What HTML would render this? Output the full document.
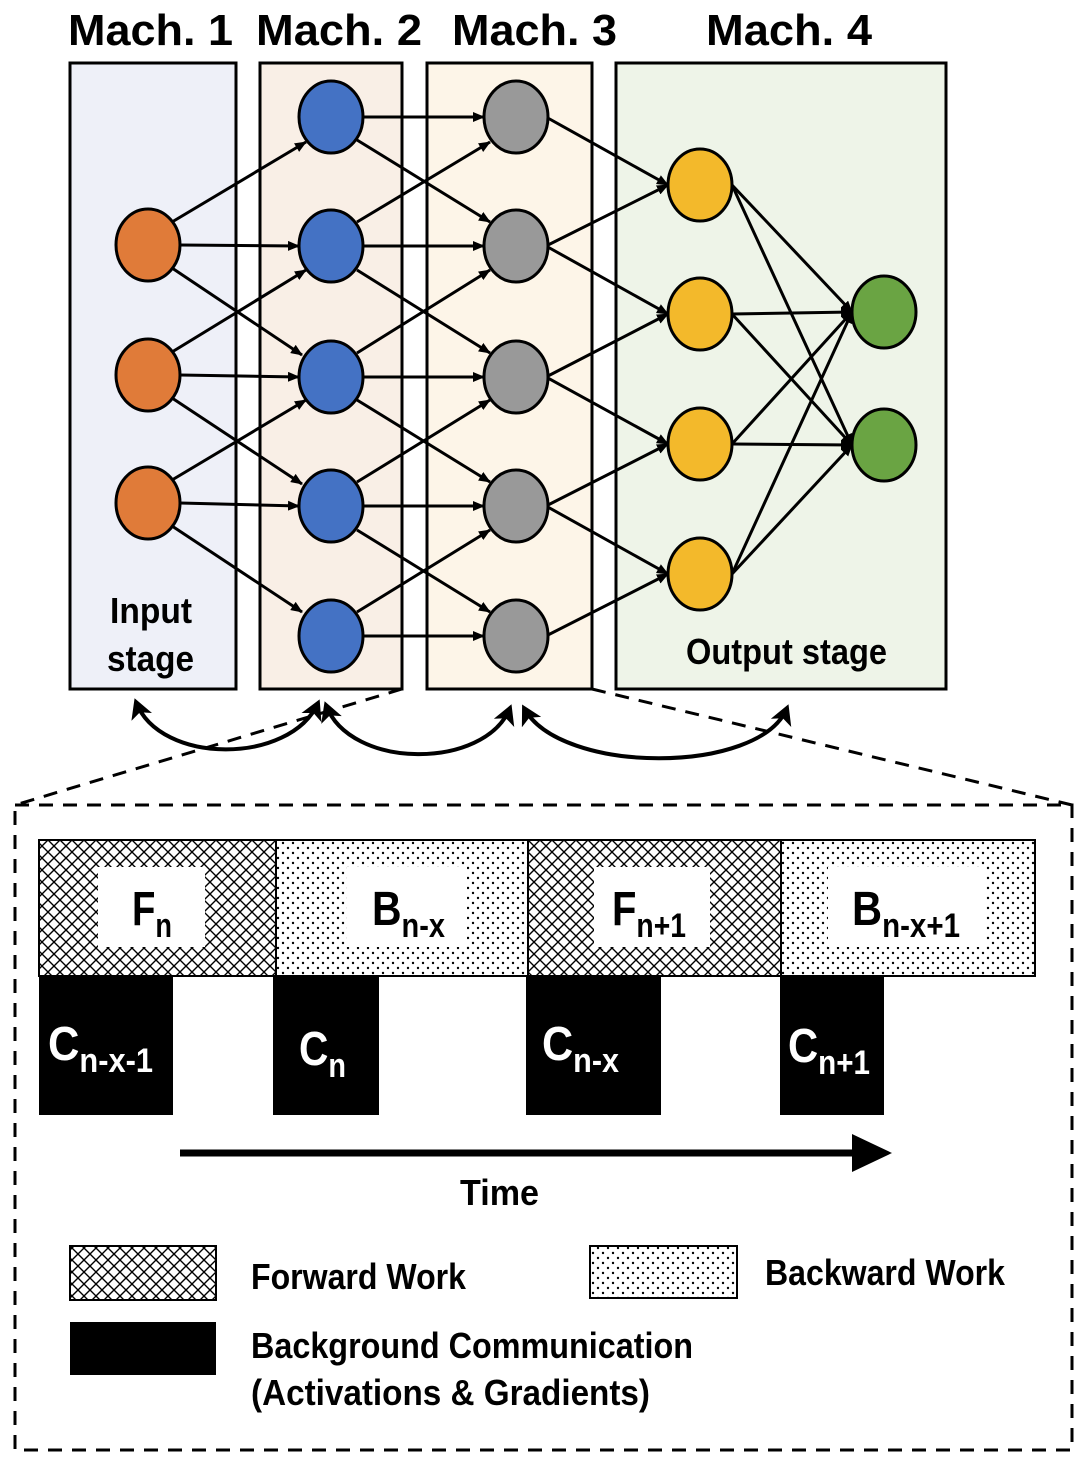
<!DOCTYPE html>
<html><head><meta charset="utf-8"><style>
html,body{margin:0;padding:0;background:#fff}
svg{display:block}
text{font-family:"Liberation Sans",sans-serif;font-weight:bold}
</style></head><body>
<svg width="1080" height="1462" viewBox="0 0 1080 1462" xmlns="http://www.w3.org/2000/svg">
<defs>
<pattern id="hx" width="12" height="12" patternUnits="userSpaceOnUse">
<rect width="12" height="12" fill="#fff"/>
<path d="M0,0L12,12M12,0L0,12" stroke="#000" stroke-width="1.4"/>
</pattern>
<pattern id="dt" width="10" height="10" patternUnits="userSpaceOnUse">
<rect width="10" height="10" fill="#fff"/>
<circle cx="3" cy="3" r="1.2" fill="#000"/>
<circle cx="8" cy="8" r="1.2" fill="#000"/>
</pattern>
<marker id="ah" markerWidth="12" markerHeight="10" refX="11" refY="5" orient="auto" markerUnits="userSpaceOnUse">
<path d="M0,0L12,5L0,10z" fill="#000"/>
</marker>
<marker id="ab" markerWidth="22" markerHeight="22" refX="16" refY="11" orient="auto-start-reverse" markerUnits="userSpaceOnUse">
<path d="M0,0L20,11L0,22L5,11z" fill="#000"/>
</marker>
</defs>

<g font-size="44" lengthAdjust="spacingAndGlyphs">
<text x="68" y="45" textLength="165" lengthAdjust="spacingAndGlyphs">Mach. 1</text>
<text x="256" y="45" textLength="166" lengthAdjust="spacingAndGlyphs">Mach. 2</text>
<text x="452" y="45" textLength="165" lengthAdjust="spacingAndGlyphs">Mach. 3</text>
<text x="706" y="45" textLength="166" lengthAdjust="spacingAndGlyphs">Mach. 4</text>
</g>

<rect x="70" y="63" width="166" height="626" fill="#eef0f8" stroke="#000" stroke-width="3"/>
<rect x="260" y="63" width="142" height="626" fill="#f9efe6" stroke="#000" stroke-width="3"/>
<rect x="427" y="63" width="165" height="626" fill="#fdf5e8" stroke="#000" stroke-width="3"/>
<rect x="616" y="63" width="330" height="626" fill="#eef4e8" stroke="#000" stroke-width="3"/>

<g stroke="#000" stroke-width="3" fill="none" marker-end="url(#ah)">
<line x1="172" y1="222" x2="306" y2="142"/><line x1="180" y1="245" x2="299" y2="246"/><line x1="172" y1="268" x2="302" y2="355"/>
<line x1="172" y1="352" x2="306" y2="270"/><line x1="180" y1="375" x2="299" y2="377"/><line x1="172" y1="398" x2="302" y2="484"/>
<line x1="172" y1="480" x2="306" y2="400"/><line x1="180" y1="503" x2="299" y2="506"/><line x1="172" y1="526" x2="302" y2="612"/>

<line x1="363" y1="117" x2="484" y2="117"/><line x1="357" y1="140" x2="490" y2="222"/>
<line x1="357" y1="222" x2="490" y2="142"/><line x1="363" y1="246" x2="484" y2="246"/><line x1="357" y1="270" x2="490" y2="353"/>
<line x1="357" y1="353" x2="490" y2="270"/><line x1="363" y1="377" x2="484" y2="377"/><line x1="357" y1="400" x2="490" y2="482"/>
<line x1="357" y1="482" x2="490" y2="400"/><line x1="363" y1="506" x2="484" y2="506"/><line x1="357" y1="530" x2="490" y2="612"/>
<line x1="357" y1="612" x2="490" y2="530"/><line x1="363" y1="636" x2="484" y2="636"/>

<line x1="546" y1="117" x2="668" y2="185"/>
<line x1="546" y1="246" x2="668" y2="185"/><line x1="546" y1="246" x2="668" y2="314"/>
<line x1="546" y1="377" x2="668" y2="314"/><line x1="546" y1="377" x2="668" y2="444"/>
<line x1="546" y1="506" x2="668" y2="444"/><line x1="546" y1="506" x2="668" y2="574"/>
<line x1="546" y1="636" x2="668" y2="574"/>

<line x1="732" y1="185" x2="852" y2="312"/><line x1="732" y1="185" x2="852" y2="445"/>
<line x1="732" y1="314" x2="852" y2="312"/><line x1="732" y1="314" x2="852" y2="445"/>
<line x1="732" y1="444" x2="852" y2="312"/><line x1="732" y1="444" x2="852" y2="445"/>
<line x1="732" y1="574" x2="852" y2="312"/><line x1="732" y1="574" x2="852" y2="445"/>
</g>

<g stroke="#000" stroke-width="3">
<g fill="#e07b39"><ellipse cx="148" cy="245" rx="32" ry="36"/><ellipse cx="148" cy="375" rx="32" ry="36"/><ellipse cx="148" cy="503" rx="32" ry="36"/></g>
<g fill="#4472c4"><ellipse cx="331" cy="117" rx="32" ry="36"/><ellipse cx="331" cy="246" rx="32" ry="36"/><ellipse cx="331" cy="377" rx="32" ry="36"/><ellipse cx="331" cy="506" rx="32" ry="36"/><ellipse cx="331" cy="636" rx="32" ry="36"/></g>
<g fill="#999999"><ellipse cx="516" cy="117" rx="32" ry="36"/><ellipse cx="516" cy="246" rx="32" ry="36"/><ellipse cx="516" cy="377" rx="32" ry="36"/><ellipse cx="516" cy="506" rx="32" ry="36"/><ellipse cx="516" cy="636" rx="32" ry="36"/></g>
<g fill="#f3b92b"><ellipse cx="700" cy="185" rx="32" ry="36"/><ellipse cx="700" cy="314" rx="32" ry="36"/><ellipse cx="700" cy="444" rx="32" ry="36"/><ellipse cx="700" cy="574" rx="32" ry="36"/></g>
<g fill="#6aa443"><ellipse cx="884" cy="312" rx="32" ry="36"/><ellipse cx="884" cy="445" rx="32" ry="36"/></g>
</g>

<g font-size="36">
<text x="110" y="623" textLength="82" lengthAdjust="spacingAndGlyphs">Input</text>
<text x="107" y="671" textLength="87" lengthAdjust="spacingAndGlyphs">stage</text>
<text x="686" y="664" textLength="201" lengthAdjust="spacingAndGlyphs">Output stage</text>
</g>

<g stroke="#000" stroke-width="3" stroke-dasharray="14,10" fill="none">
<line x1="402" y1="689" x2="15" y2="805"/>
<line x1="592" y1="689" x2="1072" y2="805"/>
<rect x="15" y="805" width="1057" height="645"/>
</g>

<g stroke="#000" stroke-width="4" fill="none" marker-start="url(#ab)" marker-end="url(#ab)">
<path d="M136,702 C160,765 290,765 318,703"/>
<path d="M326,705 C350,770 485,770 510,708"/>
<path d="M524,708 C560,775 760,775 787,708"/>
</g>

<rect x="39" y="840" width="237" height="136" fill="url(#hx)" stroke="#000" stroke-width="2"/>
<rect x="276" y="840" width="252" height="136" fill="url(#dt)" stroke="#000" stroke-width="2"/>
<rect x="528" y="840" width="253" height="136" fill="url(#hx)" stroke="#000" stroke-width="2"/>
<rect x="781" y="840" width="254" height="136" fill="url(#dt)" stroke="#000" stroke-width="2"/>
<g fill="#fff">
<rect x="98" y="867" width="107" height="80"/>
<rect x="347" y="867" width="120" height="80"/>
<rect x="594" y="867" width="116" height="80"/>
<rect x="828" y="867" width="158" height="80"/>
</g>
<g font-size="48">
<text x="132" y="925" textLength="40" lengthAdjust="spacingAndGlyphs">F<tspan font-size="34" dy="12">n</tspan></text>
<text x="372" y="925" textLength="73" lengthAdjust="spacingAndGlyphs">B<tspan font-size="34" dy="12">n-x</tspan></text>
<text x="612" y="925" textLength="74" lengthAdjust="spacingAndGlyphs">F<tspan font-size="34" dy="12">n+1</tspan></text>
<text x="852" y="925" textLength="108" lengthAdjust="spacingAndGlyphs">B<tspan font-size="34" dy="12">n-x+1</tspan></text>
</g>
<g fill="#000">
<rect x="39" y="976" width="134" height="139"/>
<rect x="273" y="976" width="106" height="139"/>
<rect x="526" y="976" width="135" height="139"/>
<rect x="780" y="976" width="104" height="139"/>
</g>
<g font-size="48" fill="#fff">
<text x="48" y="1060" textLength="105" lengthAdjust="spacingAndGlyphs">C<tspan font-size="34" dy="12">n-x-1</tspan></text>
<text x="299" y="1065" textLength="47" lengthAdjust="spacingAndGlyphs">C<tspan font-size="34" dy="12">n</tspan></text>
<text x="542" y="1060" textLength="77" lengthAdjust="spacingAndGlyphs">C<tspan font-size="34" dy="12">n-x</tspan></text>
<text x="788" y="1062" textLength="82" lengthAdjust="spacingAndGlyphs">C<tspan font-size="34" dy="12">n+1</tspan></text>
</g>

<line x1="180" y1="1153" x2="858" y2="1153" stroke="#000" stroke-width="7"/>
<path d="M852,1134L892,1153L852,1172z" fill="#000"/>
<text x="460" y="1205" font-size="36" textLength="79" lengthAdjust="spacingAndGlyphs">Time</text>

<rect x="70" y="1246" width="146" height="54" fill="url(#hx)" stroke="#000" stroke-width="2"/>
<text x="251" y="1289" font-size="36" textLength="215" lengthAdjust="spacingAndGlyphs">Forward Work</text>
<rect x="590" y="1246" width="147" height="52" fill="url(#dt)" stroke="#000" stroke-width="2"/>
<text x="765" y="1285" font-size="36" textLength="240" lengthAdjust="spacingAndGlyphs">Backward Work</text>
<rect x="70" y="1322" width="146" height="53" fill="#000"/>
<text x="251" y="1358" font-size="36" textLength="442" lengthAdjust="spacingAndGlyphs">Background Communication</text>
<text x="251" y="1405" font-size="36" textLength="399" lengthAdjust="spacingAndGlyphs">(Activations &amp; Gradients)</text>
</svg>
</body></html>
